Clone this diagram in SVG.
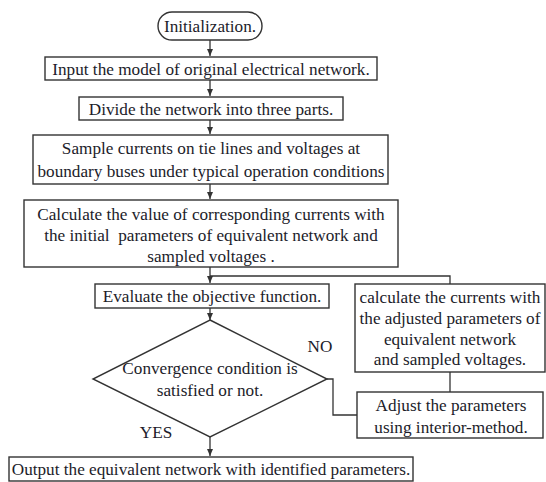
<svg xmlns="http://www.w3.org/2000/svg" width="546" height="482" viewBox="0 0 546 482">
<style>
.box{fill:#fff;stroke:#333;stroke-width:1.4}
.ln{fill:none;stroke:#333;stroke-width:1.3}
text{font-family:'Liberation Serif', 'Times New Roman', Times, serif;font-size:17.2px;fill:#1c1c2a;text-anchor:middle}
</style>
<defs>
<marker id="ah" markerWidth="8" markerHeight="8" refX="7" refY="4" orient="auto" markerUnits="userSpaceOnUse">
<path d="M0,1 L7,4 L0,7 Z" fill="#333"/>
</marker>
</defs>
<rect width="546" height="482" fill="#fff"/>
<g id="connectors">
<line class="ln" x1="210" y1="40" x2="210" y2="56" marker-end="url(#ah)"/>
<line class="ln" x1="210" y1="80" x2="210" y2="96" marker-end="url(#ah)"/>
<line class="ln" x1="210" y1="120" x2="210" y2="134" marker-end="url(#ah)"/>
<line class="ln" x1="210" y1="184" x2="210" y2="199" marker-end="url(#ah)"/>
<line class="ln" x1="210" y1="267" x2="210" y2="283" marker-end="url(#ah)"/>
<polyline class="ln" points="210,276 450,276 450,284"/>
<line class="ln" x1="210" y1="308" x2="210" y2="320" marker-end="url(#ah)"/>
<line class="ln" x1="210" y1="437" x2="210" y2="456" marker-end="url(#ah)"/>
<line class="ln" x1="450" y1="372" x2="450" y2="392"/>
<polyline class="ln" points="327,379 333,379 333,415 357,415"/>
<text x="320" y="352">NO</text>
<text x="156" y="438">YES</text>
</g>
<g id="init">
<rect class="box" x="158" y="12" width="104" height="28" rx="14"/>
<text x="210" y="32">Initialization.</text>
</g>
<g id="input">
<rect class="box" x="45" y="57" width="332" height="23"/>
<text x="211" y="74.5">Input the model of original electrical network.</text>
</g>
<g id="divide">
<rect class="box" x="79" y="97" width="264" height="23"/>
<text x="211" y="114.5">Divide the network into three parts.</text>
</g>
<g id="sample">
<rect class="box" x="33" y="135" width="355" height="49"/>
<text x="211" y="154">Sample currents on tie lines and voltages at</text>
<text x="211" y="176.5">boundary buses under typical operation conditions</text>
</g>
<g id="calculate">
<rect class="box" x="24" y="200" width="374" height="67"/>
<text x="211" y="220">Calculate the value of corresponding currents with</text>
<text x="211" y="241" xml:space="preserve">the initial  parameters of equivalent network and</text>
<text x="211" y="261.5">sampled voltages .</text>
</g>
<g id="evaluate">
<rect class="box" x="95" y="284" width="234" height="24"/>
<text x="212" y="302">Evaluate the objective function.</text>
</g>
<g id="adjusted">
<rect class="box" x="355" y="284" width="190" height="88"/>
<text x="450" y="303">calculate the currents with</text>
<text x="450" y="324">the adjusted parameters of</text>
<text x="450" y="345">equivalent network</text>
<text x="450" y="365">and sampled voltages.</text>
</g>
<g id="decision">
<polygon class="box" points="210,320 327,379 210,437 93,379"/>
<text x="210" y="374">Convergence condition is</text>
<text x="210" y="396">satisfied or not.</text>
</g>
<g id="adjust">
<rect class="box" x="357" y="392" width="186" height="46"/>
<text x="451" y="411">Adjust the parameters</text>
<text x="451" y="433">using interior-method.</text>
</g>
<g id="output">
<rect class="box" x="9" y="457" width="404" height="24"/>
<text x="211" y="475">Output the equivalent network with identified parameters.</text>
</g>
</svg>
